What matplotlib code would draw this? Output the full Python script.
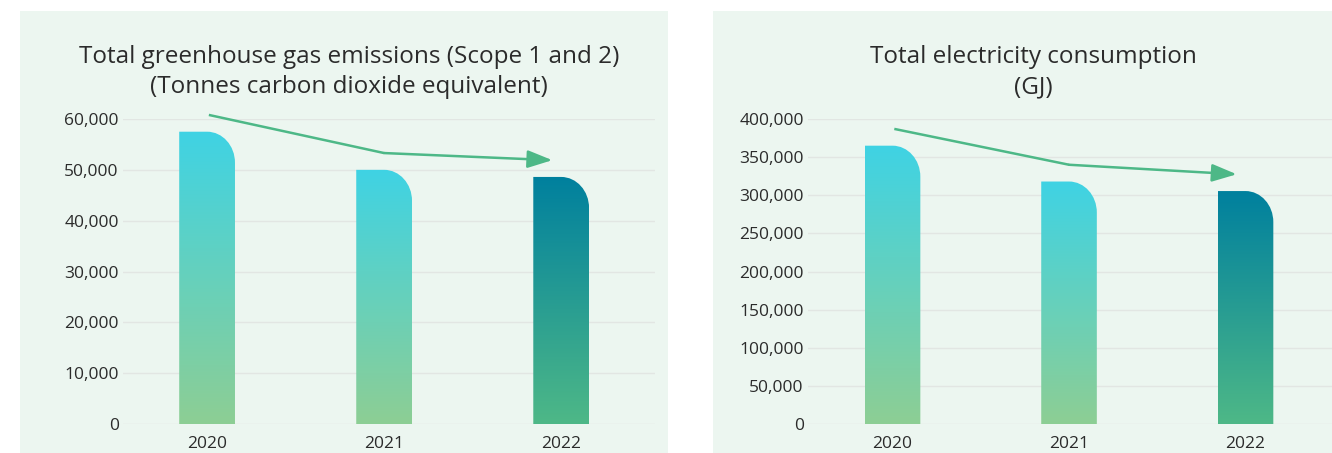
import numpy as np
import matplotlib
matplotlib.use("Agg")
import matplotlib.pyplot as plt
from matplotlib.path import Path
from matplotlib.patches import PathPatch, Rectangle
from matplotlib.colors import LinearSegmentedColormap

# Environmental indicators by reporting year
years = ["2020", "2021", "2022"]
ghg_emissions = [57500, 50000, 48600]        # tonnes CO2e, scope 1 and 2
electricity_gj = [365000, 318000, 305500]    # GJ

ghg_ticks = [0, 10000, 20000, 30000, 40000, 50000, 60000]
elec_ticks = [0, 50000, 100000, 150000, 200000, 250000, 300000, 350000, 400000]

ghg_title = "Total greenhouse gas emissions (Scope 1 and 2)\n(Tonnes carbon dioxide equivalent)"
elec_title = "Total electricity consumption\n(GJ)"

plt.rcParams["font.family"] = ["Open Sans", "DejaVu Sans"]

W, H = 1332, 453
DPI = 100
PANEL_BG = "#ECF6F0"
GRID = "#E2E6E3"
TEXT = "#2B2B2B"
ARROW = "#4DB887"
OLD_TOP, OLD_BOTTOM = "#3FD3E4", "#8DCE94"
NEW_TOP, NEW_BOTTOM = "#00809E", "#4EB887"

fig = plt.figure(figsize=(W / DPI, H / DPI), dpi=DPI)
fig.patch.set_facecolor("white")


def px(x0, y_top, x1, y_bottom):
    """pixel box -> figure fraction rect [left, bottom, width, height]"""
    return [x0 / W, 1 - y_bottom / H, (x1 - x0) / W, (y_bottom - y_top) / H]


def rounded_bar(ax, xc, top, width, rx, ry, c_bottom, c_top):
    x0, x1 = xc - width / 2, xc + width / 2
    k = 0.5523
    verts = [
        (x0, 0), (x0, top), (x1 - rx, top),
        (x1 - rx + k * rx, top), (x1, top - ry + k * ry), (x1, top - ry),
        (x1, 0), (x0, 0),
    ]
    codes = [Path.MOVETO, Path.LINETO, Path.LINETO,
             Path.CURVE4, Path.CURVE4, Path.CURVE4,
             Path.LINETO, Path.CLOSEPOLY]
    patch = PathPatch(Path(verts, codes), facecolor="none", edgecolor="none")
    ax.add_patch(patch)
    cmap = LinearSegmentedColormap.from_list("bar", [c_bottom, c_top])
    grad = np.linspace(0, 1, 256).reshape(-1, 1)
    im = ax.imshow(grad, cmap=cmap, origin="lower", aspect="auto",
                   extent=[x0, x1, 0, top], zorder=2, interpolation="bilinear")
    im.set_clip_path(patch)


def panel(bg_box, ax_box, values, ticks, xlim, title, title_xy):
    # light green card behind each chart
    fig.patches.append(Rectangle((bg_box[0], bg_box[1]), bg_box[2], bg_box[3],
                                 transform=fig.transFigure, facecolor=PANEL_BG,
                                 edgecolor="none", zorder=-5))
    ax = fig.add_axes(ax_box)
    ax.set_facecolor("none")
    ax.set_zorder(1)
    ymax = ticks[-1]
    ax_h_px = ax_box[3] * H
    ry = 31 / ax_h_px * ymax
    width = 0.315
    rx = width / 2

    x = np.arange(len(values))
    for i, v in enumerate(values):
        if i == len(values) - 1:
            rounded_bar(ax, x[i], v, width, rx, ry, NEW_BOTTOM, NEW_TOP)
        else:
            rounded_bar(ax, x[i], v, width, rx, ry, OLD_BOTTOM, OLD_TOP)

    # trend arrow floating above the bars
    lift = 0.055 * ymax
    ax.plot([x[0] + 0.01, x[1]], [values[0] + lift, values[1] + lift],
            color=ARROW, lw=1.8, clip_on=False, zorder=3,
            solid_capstyle="butt")
    ax.annotate("", xy=(x[2] - 0.05, values[2] + lift), xytext=(x[1], values[1] + lift),
                arrowprops=dict(arrowstyle="-|>,head_length=0.42,head_width=0.15",
                                mutation_scale=36, color=ARROW, lw=1.8,
                                shrinkA=0, shrinkB=0),
                annotation_clip=False, zorder=3)

    ax.set_xlim(*xlim)
    ax.set_ylim(0, ymax)
    ax.set_yticks(ticks)
    ax.set_yticklabels([f"{t:,}" for t in ticks])
    ax.set_xticks(x)
    ax.set_xticklabels(years)
    ax.grid(axis="y", color=GRID, lw=1.0)
    ax.set_axisbelow(True)
    for s in ax.spines.values():
        s.set_visible(False)
    ax.tick_params(axis="both", length=0, labelsize=12.5, colors=TEXT)
    ax.tick_params(axis="y", pad=3)
    ax.tick_params(axis="x", pad=9)

    fig.text(title_xy[0] / W, 1 - title_xy[1] / H, title, ha="center", va="center",
             fontsize=17.5, color=TEXT, linespacing=1.38)
    return ax


panel(px(20, 11, 668, 460), px(123, 119, 655, 424), ghg_emissions, ghg_ticks,
      (-0.475, 2.53), ghg_title, (349, 72))
panel(px(713, 11, 1340, 460), px(808, 119, 1332, 424), electricity_gj, elec_ticks,
      (-0.479, 2.49), elec_title, (1033, 72))

fig.savefig("out.png", dpi=DPI, facecolor=fig.get_facecolor())
